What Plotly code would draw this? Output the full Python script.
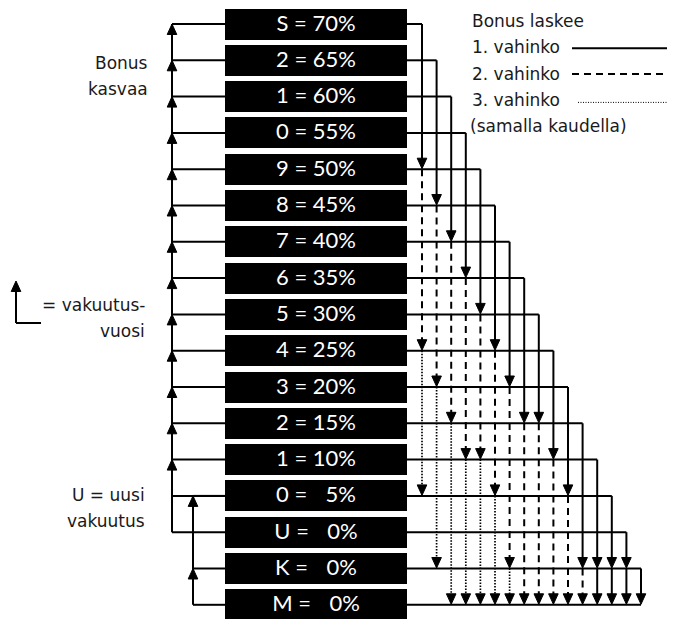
import plotly.graph_objects as go

# ---------------- data ----------------
classes = ["S", "2", "1", "0", "9", "8", "7", "6", "5", "4", "3", "2", "1", "0", "U", "K", "M"]
percents = [70, 65, 60, 55, 50, 45, 40, 35, 30, 25, 20, 15, 10, 5, 0, 0, 0]

# Row reached (index into classes) after the 1st / 2nd / 3rd claim in the same period,
# one entry per starting row 0..15 (None = no further step drawn)
after_claim1 = [4, 5, 6, 7, 8, 9, 10, 11, 11, 12, 13, 15, 15, 15, 15, 16]
after_claim2 = [9, 10, 11, 12, 12, 13, 15, 16, 16, 16, 16, 16, 16, 16, 16, None]
after_claim3 = [13, 15, 16, 16, 16, 16, 16, None, None, None, None, None, None, None, None, None]

# Insurance-year moves (left side): rows joined to each up-going line and rows that get an arrow
year_main_rows = list(range(0, 15))
year_main_arrows = list(range(0, 13))
year_low_rows = [13, 15, 16]
year_low_arrows = [13, 15]

legend_title = "Bonus laskee"
legend_items = ["1. vahinko", "2. vahinko", "3. vahinko"]
legend_note = "(samalla kaudella)"
left_notes = [["Bonus", "kasvaa"], ["= vakuutus-", "vuosi"], ["U = uusi", "vakuutus"]]

# ---------------- geometry / style ----------------
W, H = 678, 619
PAGE_OFF = 8  # default page margin around the plot div
ROW0, PITCH, BOX_H = 24.0, 36.3, 31.0
BOX_L, BOX_R = 225.0, 407.0
COL0, COL_STEP = 422.0, 14.6
BUS_A, BUS_B = 172.0, 193.0
AH, AW = 10.5, 4.8  # arrow height, half width
LW = 2
DASH = "7px,5px"
DOT = "1.5px,1.5px"
# style of the segment after the 2nd claim for each column
claim2_dash = [DASH] * 12 + ["solid"] * 3 + ["solid"]

def Y(i):
    return ROW0 + PITCH * i

def CX(j):
    return COL0 + COL_STEP * j

lines = {"solid": ([], []), DASH: ([], []), DOT: ([], [])}
arrows_x, arrows_y = [], []

def seg(style, x0, y0, x1, y1):
    xs, ys = lines[style]
    xs += [x0, x1, None]
    ys += [y0, y1, None]

def arrow(x, y, up=False):
    d = AH if up else -AH
    arrows_x.extend([x, x - AW, x + AW, x, None])
    arrows_y.extend([y, y + d, y + d, y, None])

# right side: claim transitions
for j in range(len(after_claim1)):
    x = CX(j)
    seg("solid", BOX_R, Y(j), x, Y(j))
    start = j
    for targets, style in ((after_claim1, "solid"), (after_claim2, claim2_dash[j]), (after_claim3, DOT)):
        t = targets[j]
        if t is None:
            break
        seg(style, x, Y(start), x, Y(t) - AH + 1)
        arrow(x, Y(t) - 0.5)
        start = t
# bottom row line
seg("solid", BOX_R, Y(16), CX(len(after_claim1) - 1), Y(16))

# left side: insurance year
seg("solid", BUS_A, Y(max(year_main_rows)), BUS_A, Y(min(year_main_rows)))
for i in year_main_rows:
    seg("solid", BUS_A, Y(i), BOX_L, Y(i))
for i in year_main_arrows:
    arrow(BUS_A, Y(i), up=True)
seg("solid", BUS_B, Y(max(year_low_rows)), BUS_B, Y(min(year_low_rows)))
for i in year_low_rows:
    seg("solid", BUS_B, Y(i), BOX_L, Y(i))
for i in year_low_arrows:
    arrow(BUS_B, Y(i), up=True)

# key icon (= vakuutusvuosi)
IX, IY0, IY1, IX1 = 16.0, 323.0, 281.0, 41.0
seg("solid", IX1, IY0, IX, IY0)
seg("solid", IX, IY0, IX, IY1 + AH - 1)
arrow(IX, IY1, up=True)

# legend lines
LX0, LX1 = 572.0, 667.0
LEG_Y0, LEG_STEP = 21.0, 26.3
seg("solid", LX0, LEG_Y0 + LEG_STEP * 1 + 1, LX1, LEG_Y0 + LEG_STEP * 1 + 1)
seg(DASH, LX0, LEG_Y0 + LEG_STEP * 2 + 0.5, LX1, LEG_Y0 + LEG_STEP * 2 + 0.5)

fig = go.Figure()

# boxes
fig.add_trace(go.Bar(
    y=[Y(i) for i in range(len(classes))],
    x=[BOX_R - BOX_L] * len(classes),
    base=[BOX_L] * len(classes),
    orientation="h", width=BOX_H,
    marker=dict(color="black", line=dict(width=0)),
    hoverinfo="skip",
))

for style, (xs, ys) in lines.items():
    fig.add_trace(go.Scatter(
        x=xs, y=ys, mode="lines",
        line=dict(color="black", width=LW if style != DOT else 1.7, dash=style),
        hoverinfo="skip",
    ))

# thin dotted legend line
fig.add_trace(go.Scatter(
    x=[LX0 + 6, LX1], y=[LEG_Y0 + LEG_STEP * 3 + 2.5] * 2, mode="lines",
    line=dict(color="black", width=1, dash="1px,1.5px"), hoverinfo="skip",
))

fig.add_trace(go.Scatter(
    x=arrows_x, y=arrows_y, mode="lines", fill="toself",
    fillcolor="black", line=dict(color="black", width=1), hoverinfo="skip",
))

# box labels
def label(c, p):
    ps = str(p) if p >= 10 else "\u2007" + str(p)
    return f"{c}\u00a0=\u00a0{ps}%"

fig.add_trace(go.Scatter(
    x=[(BOX_L + BOX_R) / 2] * len(classes),
    y=[Y(i) + 1 for i in range(len(classes))],
    mode="text",
    text=[label(c, p) for c, p in zip(classes, percents)],
    textfont=dict(family="Lato", size=22, color="white"),
    hoverinfo="skip",
))

annotations = []
TXT_FONT = dict(family="DejaVu Sans", size=17, color="#1a1a1a")

def note(x, y, text, anchor):
    annotations.append(dict(x=x, y=y, xref="x", yref="y", text=text, showarrow=False,
                            xanchor=anchor, yanchor="middle", font=TXT_FONT))

# legend texts
note(470, LEG_Y0, legend_title, "left")
for k, t in enumerate(legend_items):
    note(470, LEG_Y0 + LEG_STEP * (k + 1), t, "left")
note(468, LEG_Y0 + LEG_STEP * 4, legend_note, "left")

# left notes
left_y = [63, 305, 495]
left_x = [150, 147, 147]
for (l1, l2), yy, xx in zip(left_notes, left_y, left_x):
    note(xx, yy, l1, "right")
    note(xx, yy + 26, l2, "right")

fig.update_layout(
    width=W, height=H,
    margin=dict(l=0, r=0, t=0, b=0),
    paper_bgcolor="white", plot_bgcolor="white",
    showlegend=False,
    xaxis=dict(range=[PAGE_OFF, W + PAGE_OFF], visible=False, fixedrange=True),
    yaxis=dict(range=[H + PAGE_OFF, PAGE_OFF], visible=False, fixedrange=True),
    annotations=annotations,
    bargap=0,
)

fig.write_html("out.html")
